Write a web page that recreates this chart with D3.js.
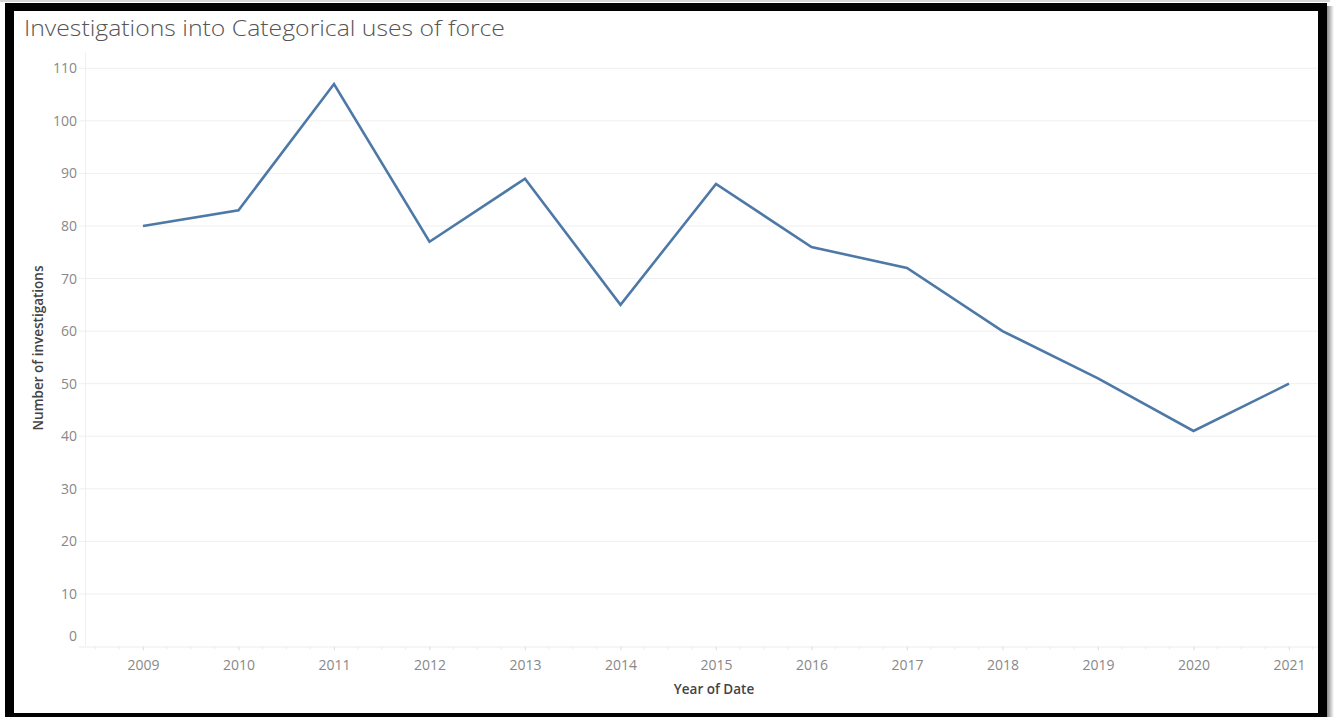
<!DOCTYPE html>
<html>
<head>
<meta charset="utf-8">
<script src="https://cdn.jsdelivr.net/npm/d3@7"></script>
<style>
  html, body { margin: 0; padding: 0; background: #fff; }
  svg { display: block; }
</style>
</head>
<body>
<svg id="chart" width="1335" height="717"></svg>
<script>
// Yearly counts of investigations into categorical uses of force
const years = [2009, 2010, 2011, 2012, 2013, 2014, 2015, 2016, 2017, 2018, 2019, 2020, 2021];
const investigations = [80, 83, 107, 77, 89, 65, 88, 76, 72, 60, 51, 41, 50];
const yTicks = [0, 10, 20, 30, 40, 50, 60, 70, 80, 90, 100, 110];

const titleText = "Investigations into Categorical uses of force";
const xTitle = "Year of Date";
const yTitle = "Number of investigations";

const svg = d3.select("#chart");

// framed card: thin top rule, drop shadow on the right, thick black border
svg.append("rect").attr("x", 0).attr("y", 0).attr("width", 1330).attr("height", 2).attr("fill", "#d6d6d6");
const defs = svg.append("defs");
const grad = defs.append("linearGradient").attr("id", "shadow").attr("x1", 0).attr("x2", 1).attr("y1", 0).attr("y2", 0);
grad.append("stop").attr("offset", 0).attr("stop-color", "#777");
grad.append("stop").attr("offset", 1).attr("stop-color", "#fff");
svg.append("rect").attr("x", 1326).attr("y", 6).attr("width", 8).attr("height", 711).attr("fill", "url(#shadow)");
svg.append("rect").attr("x", 5).attr("y", 3).attr("width", 1322).attr("height", 720).attr("fill", "#000");
svg.append("rect").attr("x", 14).attr("y", 11).attr("width", 1304).attr("height", 702).attr("fill", "#fff");

// plot pane
const pane = { left: 85, right: 1318, top: 52, bottom: 646.5 };

const x = d3.scaleLinear()
  .domain([2009 - 58 / 95.5, 2021 + 29 / 95.5])
  .range([pane.left, pane.right]);

const y = d3.scaleLinear()
  .domain([0, 113.1])
  .range([pane.bottom, pane.top]);

// title
svg.append("text")
  .attr("x", 24).attr("y", 36)
  .attr("font-family", "'Open Sans', sans-serif")
  .attr("font-weight", 300)
  .attr("font-size", 22)
  .attr("fill", "#555")
  .attr("textLength", 481)
  .attr("lengthAdjust", "spacingAndGlyphs")
  .text(titleText);

// horizontal gridlines
svg.append("g")
  .selectAll("line")
  .data(yTicks.filter(d => d > 0))
  .join("line")
  .attr("x1", pane.left - 6).attr("x2", pane.right)
  .attr("y1", d => y(d)).attr("y2", d => y(d))
  .attr("stroke", "#efefef").attr("stroke-width", 1);

// y axis rule
svg.append("line")
  .attr("x1", pane.left + 0.5).attr("x2", pane.left + 0.5)
  .attr("y1", pane.top).attr("y2", pane.bottom)
  .attr("stroke", "#f0f0f0");

// y axis labels
const yAxis = d3.axisLeft(y).tickValues(yTicks).tickSize(0).tickPadding(8);
const gy = svg.append("g").attr("transform", `translate(${pane.left},0)`).call(yAxis);
gy.select(".domain").remove();
gy.selectAll("text")
  .attr("font-family", "'Open Sans', sans-serif")
  .attr("font-size", 14)
  .attr("fill", "#888")
  .attr("dy", d => d === 0 ? "-0.42em" : "0.32em");

// x axis with minor ticks
const minor = d3.range(2008.5, 2021.5, 0.25).filter(v => v >= x.domain()[0] && v <= x.domain()[1]);
svg.append("g")
  .selectAll("line")
  .data(minor)
  .join("line")
  .attr("x1", d => x(d)).attr("x2", d => x(d))
  .attr("y1", pane.bottom).attr("y2", pane.bottom + 3)
  .attr("stroke", "#ececec");

const xAxis = d3.axisBottom(x).tickValues(years).tickFormat(d3.format("d")).tickSize(4).tickPadding(10);
const gx = svg.append("g").attr("transform", `translate(0,${pane.bottom})`).call(xAxis);
gx.select(".domain").attr("stroke", "#ececec").attr("d", `M${pane.left - 6},0.5H${pane.right}`);
gx.selectAll(".tick line").attr("stroke", "#e4e4e4");
gx.selectAll("text")
  .attr("font-family", "'Open Sans', sans-serif")
  .attr("font-size", 14)
  .attr("fill", "#888");

// axis titles
svg.append("text")
  .attr("x", 714).attr("y", 694)
  .attr("text-anchor", "middle")
  .attr("font-family", "'Open Sans', sans-serif")
  .attr("font-weight", 600)
  .attr("font-size", 13.5)
  .attr("fill", "#444")
  .text(xTitle);

svg.append("text")
  .attr("transform", "translate(43,348) rotate(-90)")
  .attr("text-anchor", "middle")
  .attr("font-family", "'Open Sans', sans-serif")
  .attr("font-weight", 600)
  .attr("font-size", 13.5)
  .attr("fill", "#444")
  .text(yTitle);

// the series line
const line = d3.line()
  .x((d, i) => x(years[i]))
  .y(d => y(d));

svg.append("path")
  .datum(investigations)
  .attr("d", line)
  .attr("fill", "none")
  .attr("stroke", "#4e79a7")
  .attr("stroke-width", 2.6)
  .attr("stroke-linejoin", "miter");
</script>
</body>
</html>
